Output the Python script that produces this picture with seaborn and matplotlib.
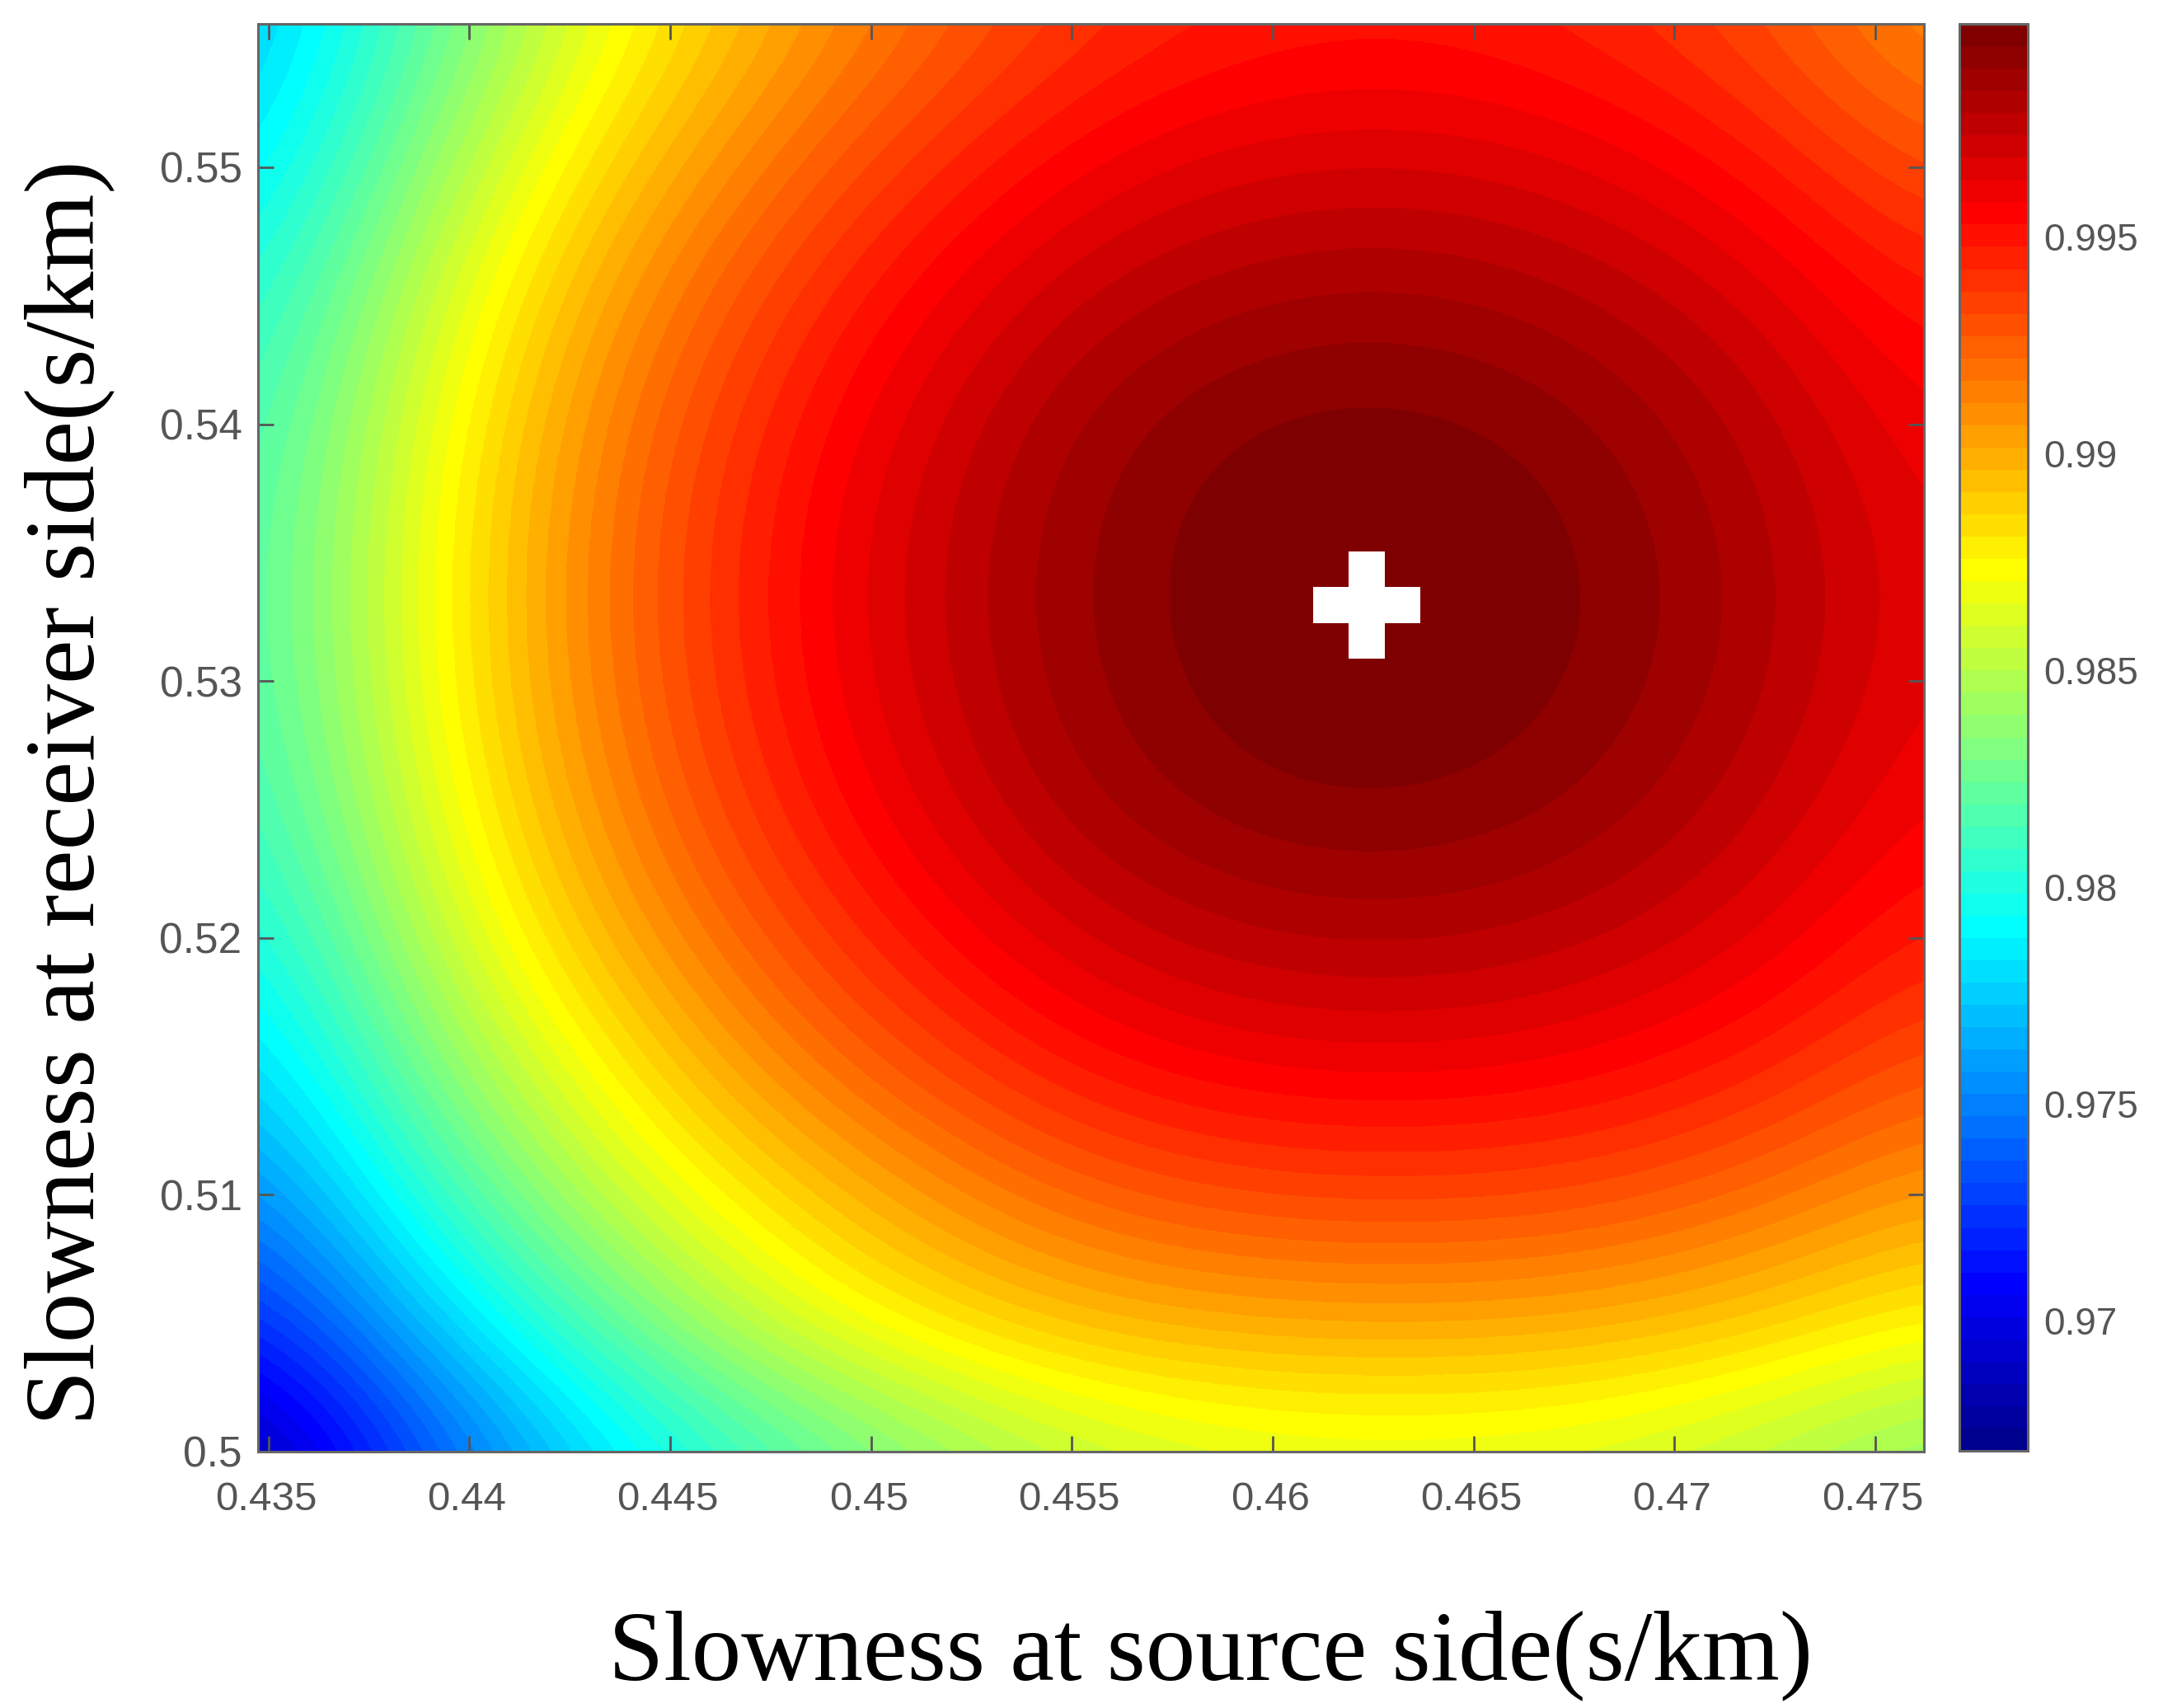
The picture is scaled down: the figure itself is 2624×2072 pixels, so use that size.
import numpy as np
import pandas as pd
import matplotlib
matplotlib.use('Agg')
import matplotlib.pyplot as plt
from matplotlib.colors import BoundaryNorm, ListedColormap
from matplotlib.transforms import ScaledTranslation
import seaborn as sns

# values (colour -> colorbar), top row first
source_slowness = [0.43474, 0.43889, 0.44304, 0.44719, 0.45134, 0.45549, 0.45964, 0.46379, 0.46794, 0.47209, 0.47621]
receiver_slowness = [0.55558, 0.55053, 0.54548, 0.54043, 0.53538, 0.53033, 0.52528, 0.52023, 0.51518, 0.51013, 0.50508, 0.50003]

row_0 = [0.97680, 0.98184, 0.98642, 0.98967, 0.99213, 0.99393, 0.99473, 0.99487, 0.99437, 0.99311, 0.99080]
row_1 = [0.97800, 0.98354, 0.98812, 0.99137, 0.99383, 0.99563, 0.99648, 0.99662, 0.99607, 0.99481, 0.99264]
row_2 = [0.97969, 0.98523, 0.98981, 0.99306, 0.99552, 0.99732, 0.99820, 0.99835, 0.99776, 0.99650, 0.99453]
row_3 = [0.98079, 0.98633, 0.99091, 0.99416, 0.99662, 0.99855, 0.99945, 0.99955, 0.99895, 0.99760, 0.99563]
row_4 = [0.98130, 0.98684, 0.99142, 0.99467, 0.99713, 0.99898, 0.99985, 0.99998, 0.99942, 0.99811, 0.99614]
row_5 = [0.98126, 0.98680, 0.99138, 0.99463, 0.99709, 0.99894, 0.99980, 0.99995, 0.99940, 0.99807, 0.99610]
row_6 = [0.98067, 0.98621, 0.99079, 0.99404, 0.99650, 0.99840, 0.99935, 0.99945, 0.99885, 0.99748, 0.99561]
row_7 = [0.97940, 0.98494, 0.98952, 0.99277, 0.99523, 0.99703, 0.99793, 0.99807, 0.99757, 0.99641, 0.99454]
row_8 = [0.97753, 0.98307, 0.98740, 0.99090, 0.99336, 0.99516, 0.99596, 0.99610, 0.99570, 0.99464, 0.99287]
row_9 = [0.97494, 0.98048, 0.98506, 0.98831, 0.99077, 0.99257, 0.99337, 0.99351, 0.99321, 0.99215, 0.99048]
row_10 = [0.97175, 0.97710, 0.98170, 0.98560, 0.98810, 0.98960, 0.99018, 0.99032, 0.99002, 0.98906, 0.98749]
row_11 = [0.96760, 0.97314, 0.97772, 0.98097, 0.98343, 0.98523, 0.98603, 0.98617, 0.98587, 0.98491, 0.98334]
similarity = [row_0, row_1, row_2, row_3, row_4, row_5, row_6, row_7, row_8, row_9, row_10, row_11]

best_source = [0.46233]
best_receiver = [0.53296]

x_ticks = [0.435, 0.44, 0.445, 0.45, 0.455, 0.46, 0.465, 0.47, 0.475]
x_tick_labels = ['0.435', '0.44', '0.445', '0.45', '0.455', '0.46', '0.465', '0.47', '0.475']
y_ticks = [0.5, 0.51, 0.52, 0.53, 0.54, 0.55]
y_tick_labels = ['0.5', '0.51', '0.52', '0.53', '0.54', '0.55']
bar_ticks = [0.97, 0.975, 0.98, 0.985, 0.99, 0.995]
bar_tick_labels = ['0.97', '0.975', '0.98', '0.985', '0.99', '0.995']
bar_min = 0.96692
bar_max = 0.99983

W, H = 2624, 2072


def px_rect(left, top, right, bottom):
    return [left / W, (H - bottom) / H, (right - left) / W, (bottom - top) / H]


def style_box(ax):
    for spine in ax.spines.values():
        spine.set_visible(True)
        spine.set_color('#666666')
        spine.set_linewidth(2.2)


def matlab_jet(n):
    # MATLAB's jet is not quite the matplotlib one
    f = np.arange(1, n + 1) / n
    r = np.clip(1.5 - np.abs(4 * f - 3), 0, 1)
    g = np.clip(1.5 - np.abs(4 * f - 2), 0, 1)
    b = np.clip(1.5 - np.abs(4 * f - 1), 0, 1)
    return ListedColormap(np.column_stack([r, g, b]))


def nudge_labels(labels, fig, dx_px, dy_px):
    shift = ScaledTranslation(dx_px / 100, dy_px / 100, fig.dpi_scale_trans)
    for label in labels:
        label.set_transform(label.get_transform() + shift)


def plot_misfit():
    sns.set_style('ticks')
    plt.rcParams['font.family'] = ['Liberation Sans']

    fig = plt.figure(figsize=(W / 100, H / 100), dpi=100)
    ax = fig.add_axes(px_rect(313, 29, 2334, 1761))
    cax = fig.add_axes(px_rect(2377, 29, 2460, 1760))

    cmap = matlab_jet(64)
    norm = BoundaryNorm(np.linspace(bar_min, bar_max, 65), 64)

    dx = (source_slowness[-1] - source_slowness[0]) / (len(source_slowness) - 1)
    dy = (receiver_slowness[0] - receiver_slowness[-1]) / (len(receiver_slowness) - 1)
    extent = (source_slowness[0] - dx / 2, source_slowness[-1] + dx / 2,
              receiver_slowness[-1] - dy / 2, receiver_slowness[0] + dy / 2)
    field = ax.imshow(np.array(similarity), extent=extent, origin='upper', aspect='auto', cmap=cmap, norm=norm,
                      interpolation='bicubic', interpolation_stage='data')

    # best fit point
    best = pd.DataFrame({'source': best_source, 'receiver': best_receiver})
    sns.scatterplot(data=best, x='source', y='receiver', marker='P', s=8649, color='white', linewidth=0, ax=ax,
                    legend=False, zorder=5)

    ax.set_xlim(0.43474, 0.47621)
    ax.set_ylim(0.5, 0.55558)
    ax.set_xlabel('')
    ax.set_ylabel('')
    ax.set_xticks(x_ticks)
    ax.set_xticklabels(x_tick_labels)
    ax.set_yticks(y_ticks)
    ax.set_yticklabels(y_tick_labels)
    ax.tick_params(direction='in', length=14, width=2, color='#555555', labelcolor='#555555', top=True, right=True)
    ax.tick_params(axis='x', labelsize=35.5, pad=26)
    ax.tick_params(axis='y', labelsize=37, pad=14)
    style_box(ax)
    nudge_labels(ax.get_xticklabels(), fig, -3, 0)

    bar = fig.colorbar(field, cax=cax, spacing='proportional')
    bar.set_ticks(bar_ticks)
    bar.set_ticklabels(bar_tick_labels)
    bar.minorticks_off()
    cax.tick_params(direction='in', length=13, width=2, color='#555555', labelsize=33, labelcolor='#555555',
                    right=True, left=False, pad=14)
    bar.outline.set_edgecolor('#666666')
    bar.outline.set_linewidth(2.2)
    nudge_labels(cax.get_yticklabels(), fig, 0, -4)

    fig.text(1469 / W, 1 - 2008 / H, 'Slowness at source side(s/km)', family='Liberation Serif', fontsize=87,
             color='black', ha='center', va='center')
    fig.text(84 / W, 1 - 962 / H, 'Slowness at receiver side(s/km)', family='Liberation Serif', fontsize=87,
             color='black', ha='center', va='center', rotation=90)

    fig.savefig('out.png', dpi=100)


if __name__ == '__main__':
    plot_misfit()
